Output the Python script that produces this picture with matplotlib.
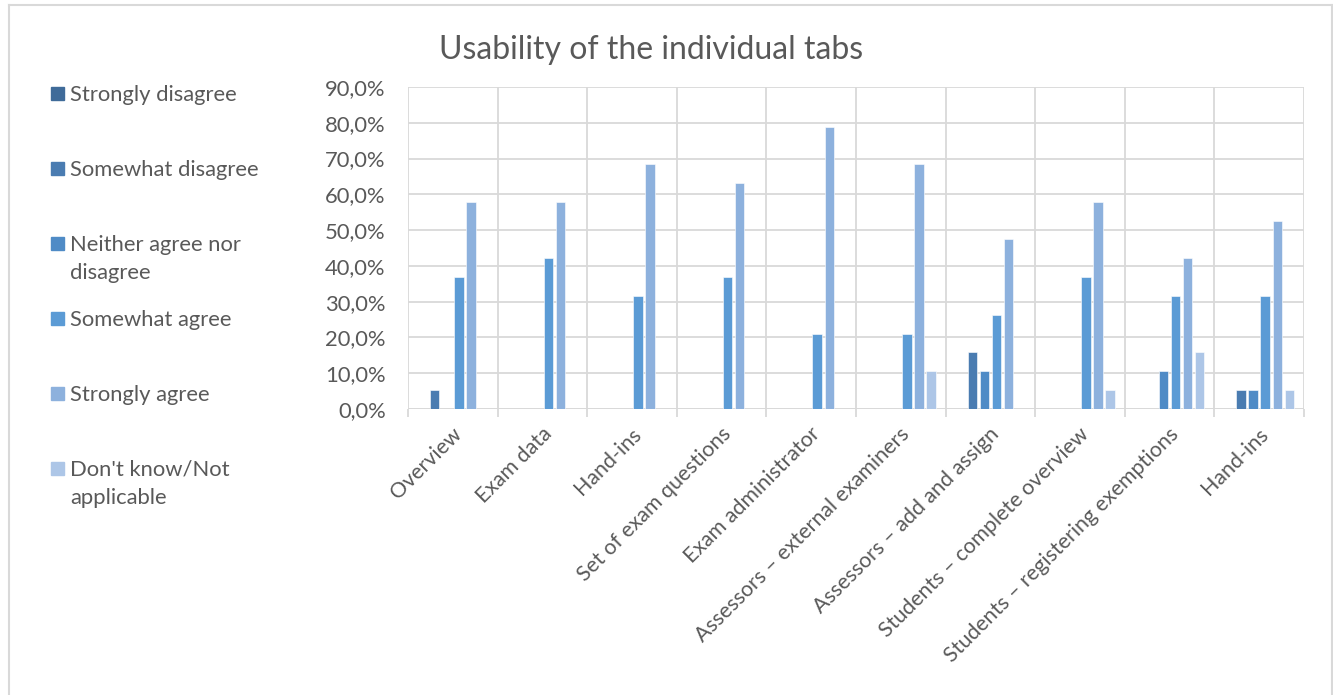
import numpy as np
import matplotlib.pyplot as plt
from matplotlib.patches import Rectangle
from matplotlib.lines import Line2D
import matplotlib.transforms as mtransforms

plt.rcParams['font.family'] = ['Lato', 'DejaVu Sans']

tabs = ['Overview', 'Exam data', 'Hand-ins', 'Set of exam questions',
        'Exam administrator', 'Assessors \u2013 external examiners',
        'Assessors \u2013 add and assign', 'Students \u2013 complete overview',
        'Students \u2013 registering exemptions', 'Hand-ins']

answers = ['Strongly disagree', 'Somewhat disagree', 'Neither agree nor\ndisagree',
           'Somewhat agree', 'Strongly agree', "Don't know/Not\napplicable"]

# share of respondents (%) per tab
strongly_disagree = [0, 0, 0, 0, 0, 0, 0, 0, 0, 0]
somewhat_disagree = [5.3, 0, 0, 0, 0, 0, 15.8, 0, 0, 5.3]
neither = [0, 0, 0, 0, 0, 0, 10.5, 0, 10.5, 5.3]
somewhat_agree = [36.8, 42.1, 31.6, 36.8, 21.1, 21.1, 26.3, 36.8, 31.6, 31.6]
strongly_agree = [57.9, 57.9, 68.4, 63.2, 78.9, 68.4, 47.4, 57.9, 42.1, 52.6]
dont_know = [0, 0, 0, 0, 0, 10.5, 0, 5.3, 15.8, 5.3]

series = [strongly_disagree, somewhat_disagree, neither,
          somewhat_agree, strongly_agree, dont_know]
colors = ['#3f6b99', '#4a7cb1', '#4f8bc6', '#5b9bd5', '#8db1dd', '#adc6e7']

W, H = 1333, 695
fig = plt.figure(figsize=(W / 100, H / 100), dpi=100)


def fx(x):
    return x / W


def fy(y):
    return 1 - y / H


ax = fig.add_axes([fx(408), fy(409), fx(1304) - fx(408), fy(87) - fy(409)])

grid_c = '#d9d9d9'
text_c = '#595959'
fs = 15.8
n = len(tabs)
x = np.arange(n)
step = 0.134
width = 0.105
for i, (vals, c) in enumerate(zip(series, colors)):
    ax.bar(x + (i - 2.5) * step, vals, width, color=c,
           edgecolor='white', linewidth=0.4, zorder=3)

ax.set_xlim(-0.5, n - 0.5)
ax.set_ylim(0, 90)
ax.set_yticks(np.arange(0, 91, 10))
ax.set_yticklabels([f'{v:.1f}%'.replace('.', ',') for v in range(0, 91, 10)])
ax.set_xticks(np.arange(-0.5, n, 1.0), minor=False)
ax.set_xticklabels([])
ax.grid(True, color=grid_c, linewidth=1.3, zorder=0)
for s in ax.spines.values():
    s.set_visible(False)
ax.axhline(0, color=grid_c, linewidth=1.3, zorder=2)
ax.tick_params(axis='y', length=0, labelsize=fs, labelcolor=text_c, pad=16)
ax.tick_params(axis='x', length=6, width=1.3, color=grid_c)

# category labels at 45 degrees below the axis
offset = mtransforms.ScaledTranslation(0.06, -0.22, fig.dpi_scale_trans)
for xi, name in zip(x, tabs):
    ax.text(xi, 0, name, rotation=45, ha='right', va='center',
            rotation_mode='anchor', fontsize=15.4, color=text_c,
            transform=ax.get_xaxis_transform() + offset)

fig.text(fx(651), fy(50), 'Usability of the individual tabs', ha='center',
         va='center', fontsize=23, color=text_c)

# legend on the left
for i, (lab, c) in enumerate(zip(answers, colors)):
    yc = 93 + 75 * i
    fig.patches.append(Rectangle((fx(51), fy(yc + 6.5)), fx(13), 13 / H,
                                 transform=fig.transFigure, color=c))
    fig.text(fx(70), fy(yc - 8), lab, ha='left', va='top', fontsize=fs,
             color=text_c, linespacing=1.5)

# chart frame
for xs, ys in [((9, 9), (5, H)), ((9, 1332), (5, 5)), ((1332, 1332), (5, H))]:
    fig.add_artist(Line2D([fx(v) for v in xs], [fy(v) for v in ys],
                          color=grid_c, linewidth=1.5, transform=fig.transFigure))

fig.savefig('out.png', dpi=100, facecolor='white')
